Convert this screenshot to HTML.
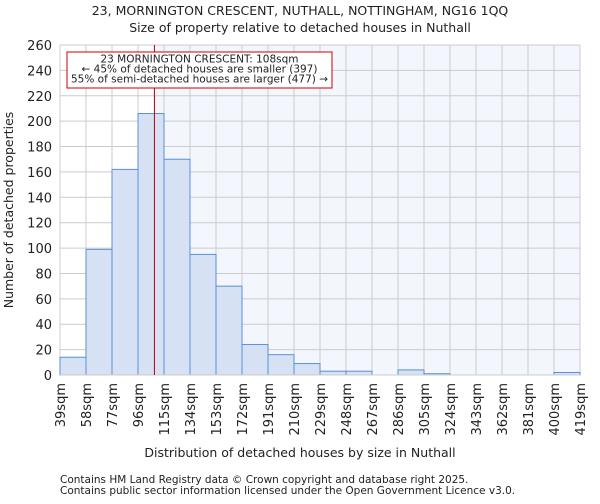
<!DOCTYPE html>
<html><head><meta charset="utf-8"><style>
body{margin:0;background:#fff;font-family:"DejaVu Sans","Liberation Sans",sans-serif;}
svg text{font-family:"DejaVu Sans","Liberation Sans",sans-serif;fill:#222;}
</style></head><body>
<svg id="c" width="600" height="500" xmlns="http://www.w3.org/2000/svg">
<text x="300" y="15" font-size="12.5" text-anchor="middle">23, MORNINGTON CRESCENT, NUTHALL, NOTTINGHAM, NG16 1QQ</text>
<text x="300" y="32" font-size="12.5" text-anchor="middle">Size of property relative to detached houses in Nuthall</text>
<text x="300" y="457" font-size="12.5" text-anchor="middle">Distribution of detached houses by size in Nuthall</text>
<text transform="translate(13,210) rotate(-90)" font-size="12.5" text-anchor="middle">Number of detached properties</text>
<text x="60" y="483" font-size="10.5">Contains HM Land Registry data © Crown copyright and database right 2025.</text>
<text x="60" y="494" font-size="10.5">Contains public sector information licensed under the Open Government Licence v3.0.</text>
</svg>
<script>
const binEdges=[39,58,77,96,115,134,153,172,191,210,229,248,267,286,305,324,343,362,381,400,419];
const counts=[14,99,162,206,170,95,70,24,16,9,3,3,0,4,1,0,0,0,0,2];
const yTicks=[0,20,40,60,80,100,120,140,160,180,200,220,240,260];
const propertySize=108;
const NS="http://www.w3.org/2000/svg";
const svg=document.getElementById('c');
const L=60,R=580,T=45,B=375;
const xs=v=>L+(v-binEdges[0])/(binEdges[binEdges.length-1]-binEdges[0])*(R-L);
const ys=v=>B-v/260*(B-T);
function mk(t,a){const e=document.createElementNS(NS,t);for(const k in a)e.setAttribute(k,a[k]);svg.appendChild(e);return e;}
const px=xs(propertySize);
let e=mk('rect',{x:L,y:T,width:px-L,height:B-T,fill:'#ffffff'});


e=mk('rect',{x:px,y:T,width:R-px,height:B-T,fill:'#f3f6fd'});


yTicks.forEach(v=>{
 e=mk('line',{x1:L,x2:R,y1:ys(v),y2:ys(v),stroke:'#cccccc','stroke-width':1});
 
 
 e=mk('text',{x:L-8,y:ys(v)+5,'font-size':13,'text-anchor':'end'});e.textContent=v;
 
 
});
binEdges.forEach(v=>{
 e=mk('line',{x1:xs(v),x2:xs(v),y1:T,y2:B,stroke:'#cccccc','stroke-width':1});
 
 
 e=mk('text',{transform:`translate(${xs(v)+5},${B+8}) rotate(-90)`,'font-size':13,'text-anchor':'end'});e.textContent=v+'sqm';
 
 
});
counts.forEach((c,i)=>{
 if(c<=0)return;
 e=mk('rect',{x:xs(binEdges[i]),y:ys(c),width:xs(binEdges[i+1])-xs(binEdges[i]),height:B-ys(c),fill:'#d6e2f4',stroke:'#5a8fd6','stroke-width':1});
 
 
});
e=mk('line',{x1:L,x2:R,y1:B,y2:B,stroke:'#cccccc','stroke-width':1});


e=mk('line',{x1:px,x2:px,y1:T,y2:B,stroke:'#b00010','stroke-width':1});


e=mk('rect',{x:67,y:52,width:265,height:36,fill:'#ffffff',stroke:'#cc0000','stroke-width':1});


const lines=['23 MORNINGTON CRESCENT: 108sqm','← 45% of detached houses are smaller (397)','55% of semi-detached houses are larger (477) →'];
lines.forEach((s,i)=>{
 e=mk('text',{x:199.5,y:62.5+i*10,'font-size':10.5,'text-anchor':'middle'});e.textContent=s;
 
 
});
</script>
</body></html>
